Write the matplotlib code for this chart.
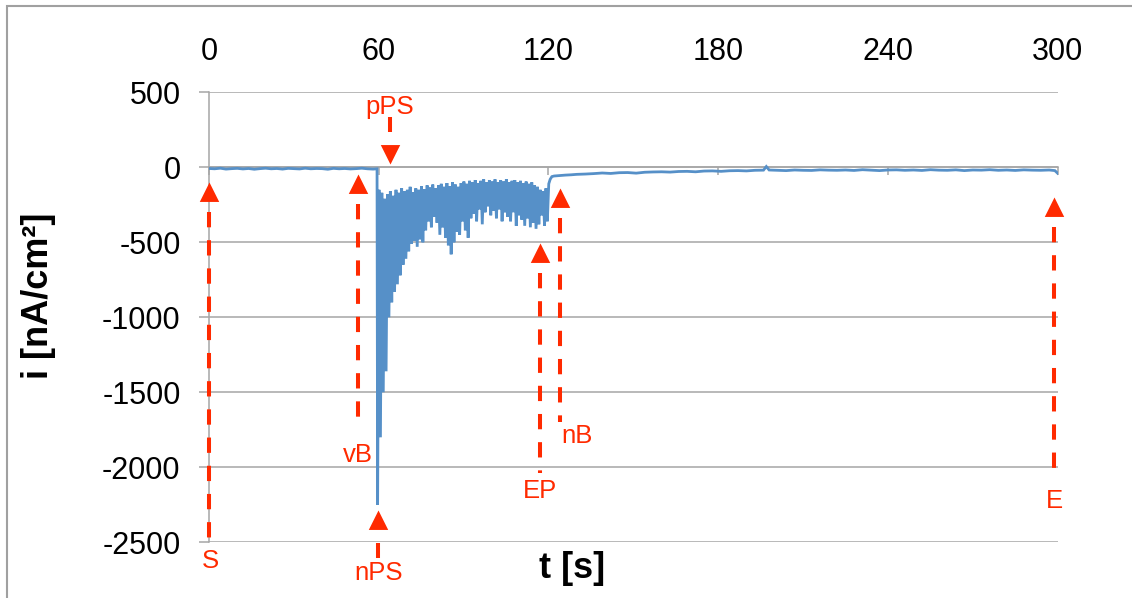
import numpy as np
import matplotlib
matplotlib.use("Agg")
import matplotlib.pyplot as plt
from matplotlib.path import Path
from matplotlib.patches import Rectangle

plt.rcParams['font.family'] = ['Liberation Sans', 'DejaVu Sans']

# ---- current density trace, i [nA/cm²] versus t [s] ----
# quiet baseline before the event
t_pre = [0, 2, 4, 6, 8, 10, 12, 14, 16, 18, 20, 22, 24, 26, 28, 30, 32, 34,
         36, 38, 40, 42, 44, 46, 48, 50, 52, 54, 56, 58, 59.4]
i_pre = [-8, -10, -6, -12, -9, -7, -11, -8, -13, -9, -6, -10, -8, -12, -7,
         -9, -11, -6, -10, -8, -9, -13, -7, -10, -8, -11, -9, -6, -10, -12, -10]

# burst: one trough and one crest per second
burst_t0 = 59.6
i_burst_low = [-2250, -1800, -1500, -1360, -1000, -900, -830, -780, -720, -650,
               -610, -560, -510, -490, -530, -480, -500, -420, -360, -400,
               -330, -370, -450, -400, -470, -520, -580, -500, -430, -450,
               -360, -420, -470, -340, -310, -360, -280, -380, -300, -260,
               -320, -290, -340, -280, -360, -300, -330, -360, -300, -390,
               -320, -350, -390, -340, -400, -370, -410, -380, -320, -390,
               -360]
i_burst_high = [-150, -170, -210, -180, -160, -190, -150, -170, -140, -160,
                -150, -130, -165, -140, -150, -125, -145, -120, -135, -115,
                -140, -120, -110, -130, -105, -125, -100, -115, -130, -105,
                -95, -110, -90, -100, -85, -105, -90, -80, -100, -85,
                -95, -80, -100, -85, -95, -80, -100, -90, -85, -100,
                -90, -105, -95, -110, -100, -120, -130, -150, -160, -140,
                -110]

# recovery after the burst
t_post = [120.6, 121.2, 122, 124, 126, 128, 130, 133, 136, 139, 142, 145, 148,
          151, 154, 157, 160, 163, 166, 169, 172, 175, 178, 181, 184, 187, 190,
          193, 196, 197, 198, 201, 204, 207, 210, 213, 216, 219, 222, 225, 228,
          231, 234, 237, 240, 243, 246, 249, 252, 255, 258, 261, 264, 267, 270,
          273, 276, 279, 282, 285, 288, 291, 294, 297, 299, 300]
i_post = [-80, -62, -58, -55, -52, -50, -47, -45, -42, -38, -41, -36, -35,
          -39, -33, -31, -30, -32, -28, -27, -30, -25, -24, -27, -23, -22, -24,
          -20, -19, 5, -18, -20, -22, -18, -20, -21, -17, -19, -20, -18, -21,
          -16, -19, -22, -18, -17, -20, -18, -21, -16, -19, -20, -17, -22, -18,
          -19, -16, -20, -18, -21, -17, -19, -20, -18, -22, -40]

x_ticks = [0, 60, 120, 180, 240, 300]
y_ticks = [500, 0, -500, -1000, -1500, -2000, -2500]

# event markers: label, time, arrow tip, dash start, dash end, direction, label anchor
events = [
    ("S",   0.0,   -96,  -296, -2485, "up",   (0.6, -2673)),
    ("vB",  52.7,  -45,  -245, -1735, "up",   (52.7, -1963)),
    ("pPS", 64.0,   22,   335,   235, "down", (64.0, 356)),
    ("nPS", 59.85, -2285, -2503, -2605, "up", (59.85, -2751)),
    ("EP",  117.0, -505, -705, -2037, "up",   (117.0, -2207)),
    ("nB",  124.1, -139, -339, -1700, "up",   (130.0, -1836)),
    ("E",   298.7, -196, -396, -2050, "up",   (298.7, -2271)),
]

# assemble the full trace
k = np.arange(len(i_burst_low))
t_low = burst_t0 + k
t_high = burst_t0 + 0.5 + k
t_burst = np.column_stack([t_low, t_high]).ravel()
i_burst = np.column_stack([i_burst_low, i_burst_high]).ravel()
t_all = np.concatenate([t_pre, t_burst, t_post])
i_all = np.concatenate([i_pre, i_burst, i_post])

BLUE = "#5690C8"
RED = "#FF2A00"
GRID = "#A6A6A6"

fig = plt.figure(figsize=(11.32, 5.98), dpi=100)
ax = fig.add_axes([209 / 1132, 1 - 542.3 / 598, (1057.7 - 209) / 1132, 450 / 598])

ax.plot(t_all, i_all, color=BLUE, lw=2.0, solid_joinstyle="miter", zorder=3)

ax.set_xlim(0, 300)
ax.set_ylim(-2500, 500)
ax.set_xticks(x_ticks)
ax.set_yticks(y_ticks)
ax.set_xticklabels([str(v) for v in x_ticks])
ax.set_yticklabels([str(v) for v in y_ticks])

for side in ("top", "right"):
    ax.spines[side].set_visible(False)
ax.spines["left"].set_color(GRID)
ax.spines["left"].set_linewidth(1.1)
ax.spines["bottom"].set_position(("data", 0))
ax.spines["bottom"].set_color(GRID)
ax.spines["bottom"].set_linewidth(1.1)

ax.grid(axis="y", color=GRID, lw=1.1)
ax.set_axisbelow(True)

ax.tick_params(axis="y", direction="out", length=7, width=1.1, color=GRID,
               pad=13.5, labelsize=22, labelcolor="black")
ax.tick_params(axis="x", direction="out", length=5.5, width=1.1, color=GRID,
               bottom=True, top=False, labelbottom=False, labeltop=True,
               pad=12.5, labelsize=22, labelcolor="black")

# arrowhead shapes with the tip at the origin
up_head = Path([(0, 0), (-0.5, -1), (0.5, -1), (0, 0)],
               [Path.MOVETO, Path.LINETO, Path.LINETO, Path.CLOSEPOLY])
down_head = Path([(0, 0), (-0.5, 1), (0.5, 1), (0, 0)],
                 [Path.MOVETO, Path.LINETO, Path.LINETO, Path.CLOSEPOLY])

for label, t, tip, d0, d1, direction, (lx, ly) in events:
    ax.plot([t, t], [d0, d1], color=RED, lw=2.9, ls=(0, (3.8, 3.2)),
            dash_capstyle="butt", clip_on=False, zorder=4)
    ax.plot([t], [tip], marker=up_head if direction == "up" else down_head,
            ms=28, color=RED, mew=0, ls="none", clip_on=False, zorder=5)
    ax.text(lx, ly, label, color=RED, fontsize=18.5, ha="center",
            va="baseline", clip_on=False, zorder=5)

fig.text(39 / 1132, 1 - 296 / 598, "i [nA/cm²]", rotation=90, fontsize=26,
         fontweight="bold", ha="center", va="center")
fig.text(572 / 1132, 1 - 568 / 598, "t [s]", fontsize=26, fontweight="bold",
         ha="center", va="center")

# light frame around the chart
fig.patches.append(Rectangle((7 / 1132, -0.2), 1.5, 1.2 - 6 / 598,
                             transform=fig.transFigure, fill=False,
                             edgecolor="#A0A0A0", lw=1.5))

fig.savefig("out.png", dpi=100)
